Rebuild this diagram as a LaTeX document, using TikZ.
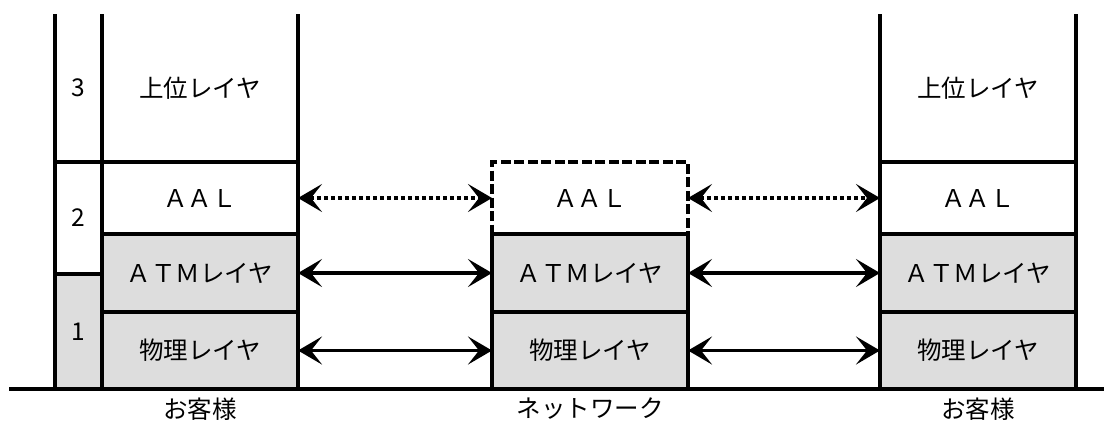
\documentclass[tikz,border=0pt]{standalone}
\usepackage{fontspec}
\setmainfont{Noto Sans CJK JP}
\usetikzlibrary{arrows.meta}
\definecolor{cellgray}{HTML}{DDDDDD}
\begin{document}
\begin{tikzpicture}[x=1pt, y=-1pt,
		layer/.style={minimum width=196pt, inner sep=0pt, outer sep=0pt, line width=4.5pt, font=\fontsize{24.5}{28}\selectfont},
		numcell/.style={layer, minimum width=47pt},
		grayfill/.style={fill=cellgray},
		edge/.style={line width=4.5pt},
		link/.style={line width=3.2pt, {Stealth[length=24pt, width=28pt, inset=11pt]}-{Stealth[length=24pt, width=28pt, inset=11pt]}},
		dotlink/.style={link, dash pattern=on 4pt off 3pt},
		caption/.style={font=\fontsize{24.5}{28}\selectfont, inner sep=0pt}]

		\useasboundingbox (0,0) rectangle (1113,421);

		% left customer
		\node[numcell, minimum height=148pt] (n3) at (78.5, 88) {3};
		\node[numcell, draw, minimum height=112pt] (n2) at (78.5, 218) {2};
		\node[numcell, draw, grayfill, minimum height=115pt] (n1) at (78.5, 331.5) {1};
		\node[layer, minimum height=148pt] (L3) at (200, 88) {上位レイヤ};
		\node[layer, draw, minimum height=72pt] (Laal) at (200, 198) {ＡＡＬ};
		\node[layer, draw, grayfill, minimum height=78pt] (Latm) at (200, 273) {ＡＴＭレイヤ};
		\node[layer, draw, grayfill, minimum height=77pt] (Lphy) at (200, 350.5) {物理レイヤ};

		\draw[edge] (n3.north west) -- (n3.south west) -- (n3.south east) -- (n3.north east);
		\draw[edge] (L3.north west) -- (L3.south west) -- (L3.south east) -- (L3.north east);

		% network
		\node[layer, draw, dash pattern=on 10pt off 3.5pt, minimum height=72pt] (Maal) at (590, 198) {ＡＡＬ};
		\node[layer, draw, grayfill, minimum height=78pt] (Matm) at (590, 273) {ＡＴＭレイヤ};
		\node[layer, draw, grayfill, minimum height=77pt] (Mphy) at (590, 350.5) {物理レイヤ};

		% right customer
		\node[layer, minimum height=148pt] (R3) at (978, 88) {上位レイヤ};
		\node[layer, draw, minimum height=72pt] (Raal) at (978, 198) {ＡＡＬ};
		\node[layer, draw, grayfill, minimum height=78pt] (Ratm) at (978, 273) {ＡＴＭレイヤ};
		\node[layer, draw, grayfill, minimum height=77pt] (Rphy) at (978, 350.5) {物理レイヤ};

		\draw[edge] (R3.north west) -- (R3.south west) -- (R3.south east) -- (R3.north east);

		% links
		\draw[dotlink] (Laal.east) -- (Maal.west);
		\draw[dotlink] (Maal.east) -- (Raal.west);
		\draw[link] (Latm.east) -- (Matm.west);
		\draw[link] (Matm.east) -- (Ratm.west);
		\draw[link] (Lphy.east) -- (Mphy.west);
		\draw[link] (Mphy.east) -- (Rphy.west);

		% ground
		\coordinate (g0) at (9, 389);
		\coordinate (g1) at (1104, 389);
		\draw[edge] (g0) -- (g1);

		\node[caption] (cust1) at (200, 409) {お客様};
		\node[caption] (net) at (590, 409) {ネットワーク};
		\node[caption] (cust2) at (978, 409) {お客様};

	\end{tikzpicture}
\end{document}
